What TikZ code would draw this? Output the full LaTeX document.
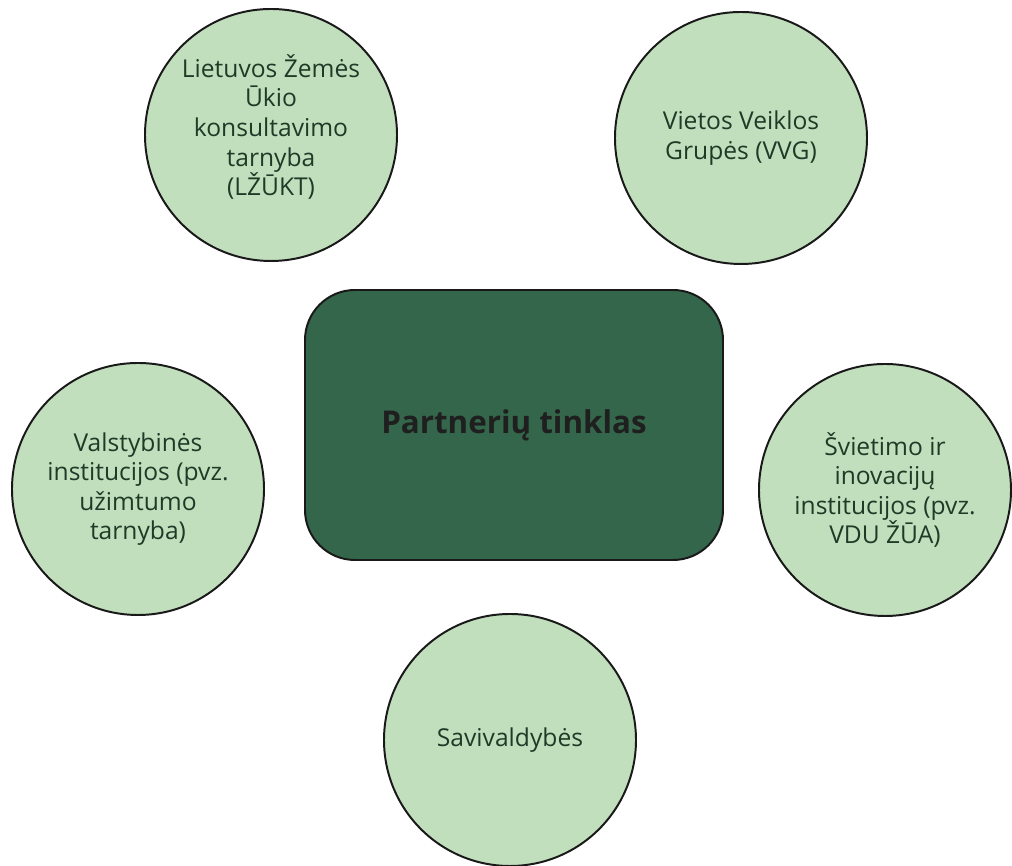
\documentclass[tikz,border=0pt]{standalone}
\usepackage{fontspec}
\setmainfont{Open Sans}
\definecolor{leaf}{HTML}{C2DFBD}
\definecolor{forest}{HTML}{33664A}
\definecolor{inkgreen}{HTML}{1F3A27}
\tikzset{
  partner/.style={circle, draw=black!90, line width=1.4pt, fill=leaf, minimum size=6.3cm, inner sep=0pt},
  partnertext/.style={align=center, text=inkgreen, font=\fontsize{17.5}{21}\selectfont},
  hub/.style={rectangle, rounded corners=1.25cm, draw=black!90, line width=1.4pt, fill=forest,
    minimum width=10.45cm, minimum height=6.75cm, text=black!88, font=\fontsize{22.3}{26}\selectfont\bfseries}
}
\begin{document}
\begin{tikzpicture}
      \useasboundingbox (0, 0) rectangle (25.3, 21.65);
      \node[hub] (tinklas) at (12.85, 11.025){Partnerių tinklas};

      \node[partner, label={[partnertext, yshift=0.2cm]center:Lietuvos Žemės\\Ūkio\\konsultavimo\\tarnyba\\(LŽŪKT)}] (lzukt) at (6.775, 18.275){};
      \node[partner, label={[partnertext]center:Vietos Veiklos\\Grupės (VVG)}] (vvg) at (18.525, 18.2){};
      \node[partner, label={[partnertext]center:Valstybinės\\institucijos (pvz.\\užimtumo\\tarnyba)}] (valstybe) at (3.45, 9.425){};
      \node[partner, label={[partnertext]center:Švietimo ir\\inovacijų\\institucijos (pvz.\\VDU ŽŪA)}] (svietimas) at (22.125, 9.4){};
      \node[partner, label={[partnertext]center:Savivaldybės}] (savivalda) at (12.75, 3.15){};
    \end{tikzpicture}
\end{document}
